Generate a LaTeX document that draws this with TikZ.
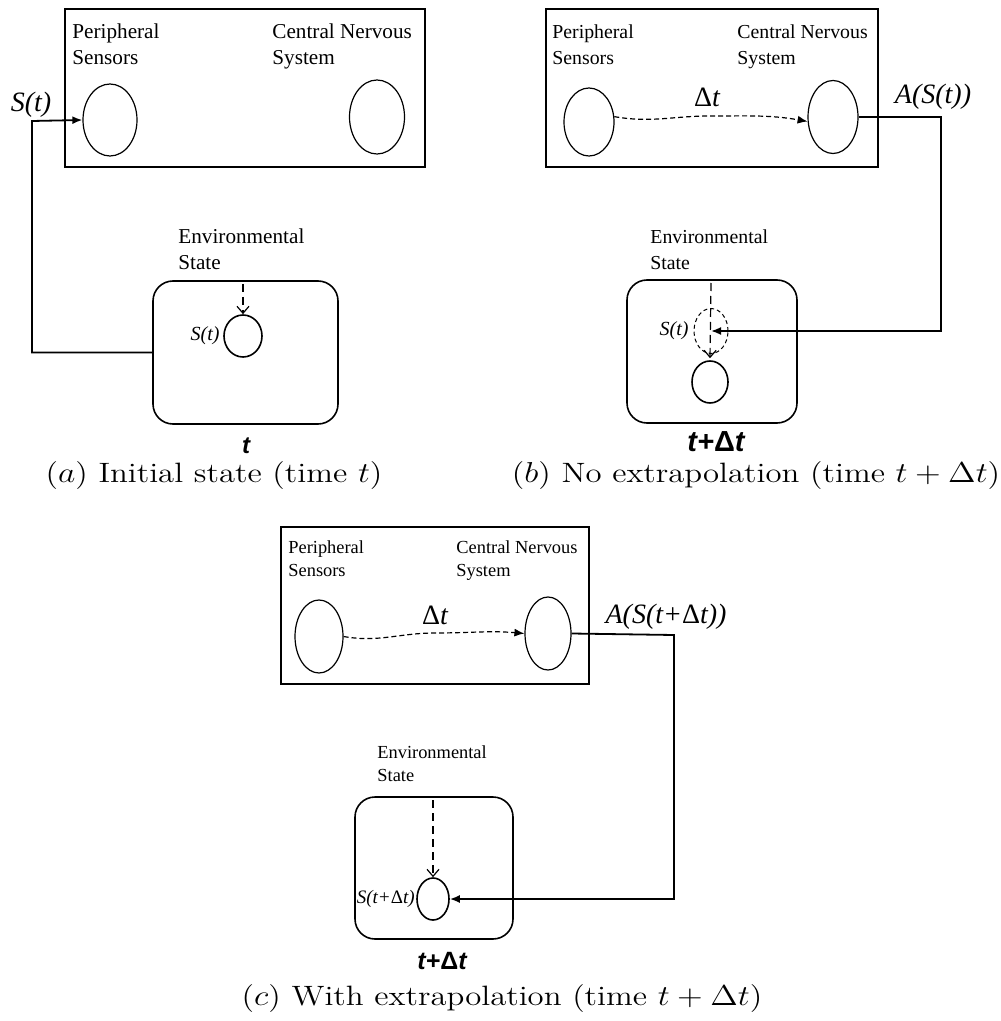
\documentclass[tikz,border=0pt]{standalone}
\usepackage{fontspec}
\newfontfamily\tnr{Liberation Serif}
\newfontfamily\ari{Liberation Sans}
\usetikzlibrary{shapes.geometric,arrows.meta}
\begin{document}
\begin{tikzpicture}[x=0.5pt,y=-0.5pt,
  box/.style={draw, line width=0.7pt, inner sep=0},
  envbox/.style={draw, rounded corners=10pt, line width=0.8pt, inner sep=0},
  oval/.style={draw, ellipse, line width=0.6pt, inner sep=0},
  soval/.style={draw, ellipse, line width=0.8pt, inner sep=0},
  lbl/.style={font=\tnr\fontsize{10.6}{13}\selectfont, align=left, anchor=north west, inner sep=0},
  lblb/.style={lbl, font=\tnr\fontsize{9.9}{13}\selectfont},
  lblc/.style={lbl, font=\tnr\fontsize{9.2}{11.8}\selectfont},
  bigit/.style={font=\tnr\itshape\fontsize{14}{16}\selectfont, inner sep=0},
  smit/.style={font=\tnr\itshape\fontsize{10}{12}\selectfont, inner sep=0, anchor=east},
  tlabel/.style={font=\ari\bfseries\itshape\fontsize{12.5}{15}\selectfont, inner sep=0},
  capt/.style={font=\fontsize{14}{16}\selectfont, inner sep=0},
  conn/.style={line width=0.9pt, -{Latex[length=5pt,width=4pt]}},
  wavy/.style={line width=0.6pt, dash pattern=on 2.5pt off 1.5pt, -{Latex[length=5pt,width=4pt]}},
  envarrow/.style={line width=0.6pt, dash pattern=on 4pt off 2.5pt, -{Straight Barb[length=3.5pt,width=6pt]}}
]
\useasboundingbox (0,0) rectangle (1000,1021);

% ---------------- panel (a) ----------------
\node[box, minimum width=180pt, minimum height=79pt] (boxA) at (245,88) {};
\node[lbl] (psA) at (72,23) {Peripheral\\Sensors};
\node[lbl] (cnsA) at (272,23) {Central Nervous\\System};
\node[oval, minimum width=27pt, minimum height=36pt] (ellA1) at (110,120) {};
\node[oval, minimum width=27.5pt, minimum height=37pt] (ellA2) at (377,117) {};
\node[bigit] (sA) at (31,105) {S(t)};
\node[envbox, minimum width=92.5pt, minimum height=71.5pt] (envA) at (245.5,352.5) {};
\node[lbl] (envtA) at (178,228) {Environmental\\State};
\node[soval, minimum width=19pt, minimum height=21pt] (circA) at (243,336) {};
\node[smit] (stA) at (220,336) {S(t)};
\node[tlabel, font=\ari\bfseries\itshape\fontsize{12}{14}\selectfont] (tA) at (246,446) {t};
\coordinate (envinA) at (243,284);
\coordinate (cA) at (32,121);
\draw[conn] (envA.west) -| (cA) -- (ellA1.west);
\draw[envarrow] (envinA) -- (circA.north);
\node[capt] (capA) at (214,476) {\scalebox{1.17}[1]{($a$) Initial state (time $t$)}};

% ---------------- panel (b) ----------------
\node[box, minimum width=166pt, minimum height=79pt] (boxB) at (712,88) {};
\node[lblb] (psB) at (552,24) {Peripheral\\Sensors};
\node[lblb] (cnsB) at (737,24) {Central Nervous\\System};
\node[oval, minimum width=25pt, minimum height=34pt] (ellB1) at (589,122) {};
\node[oval, minimum width=25pt, minimum height=36.5pt] (ellB2) at (833,117) {};
\coordinate (wB) at (710,116);
\draw[wavy] (ellB1.12) to[out=-10,in=180] (wB) to[out=0,in=170] (ellB2.190);
\node[bigit] (dtB) at (707,97) {\textup{Δ}t};
\node[bigit] (aB) at (933,97) {A(S(t))};
\node[envbox, minimum width=85pt, minimum height=71.5pt] (envB) at (712,351.5) {};
\node[lblb] (envtB) at (650,229) {Environmental\\State};
\node[draw, ellipse, line width=0.5pt, dash pattern=on 2pt off 1.5pt, inner sep=0, minimum width=17pt, minimum height=22.5pt] (dcB) at (711,331) {};
\node[soval, minimum width=18pt, minimum height=21pt] (scB) at (710,382) {};
\node[smit] (stB) at (689,331) {S(t)};
\node[tlabel, font=\ari\bfseries\itshape\fontsize{14.5}{16}\selectfont] (tB) at (716,442) {t+\textup{Δ}t};
\coordinate (envinB) at (711,283);
\coordinate (cB) at (941,117);
\draw[envarrow] (envinB) -- ([yshift=1pt]scB.north);
\draw[conn] (ellB2.east) -- (cB) |- (dcB.center);
\node[capt] (capB) at (756,476) {\scalebox{1.17}[1]{($b$) No extrapolation (time $t+\Delta t$)}};

% ---------------- panel (c) ----------------
\node[box, minimum width=154pt, minimum height=78.5pt] (boxC) at (435,605.5) {};
\node[lblc] (psC) at (288,540) {Peripheral\\Sensors};
\node[lblc] (cnsC) at (456,540) {Central Nervous\\System};
\node[oval, minimum width=24pt, minimum height=36.5pt] (ellC1) at (319,636.5) {};
\node[oval, minimum width=23pt, minimum height=36.5pt] (ellC2) at (548,633.5) {};
\coordinate (wC) at (435,633);
\draw[wavy] (ellC1.east) to[out=-10,in=180] (wC) to[out=0,in=175] (ellC2.west);
\node[bigit] (dtC) at (435,615) {\textup{Δ}t};
\node[bigit] (aC) at (666,617) {A(S(t+\textup{Δ}t))};
\node[envbox, minimum width=79pt, minimum height=71pt] (envC) at (434,868) {};
\node[lblc] (envtC) at (377,745) {Environmental\\State};
\node[soval, minimum width=16pt, minimum height=21pt] (circC) at (433,899) {};
\node[smit, font=\tnr\itshape\fontsize{9.5}{11}\selectfont] (stC) at (415,899) {S(t+\textup{Δ}t)};
\node[tlabel] (tC) at (442,961) {t+\textup{Δ}t};
\coordinate (envinC) at (433,800);
\coordinate (cC) at (674,635);
\draw[envarrow] (envinC) -- (circC.north);
\draw[conn] (ellC2.east) -- (cC) |- (circC.east);
\node[capt] (capC) at (502,999) {\scalebox{1.17}[1]{($c$) With extrapolation (time $t+\Delta t$)}};
\end{tikzpicture}
\end{document}
